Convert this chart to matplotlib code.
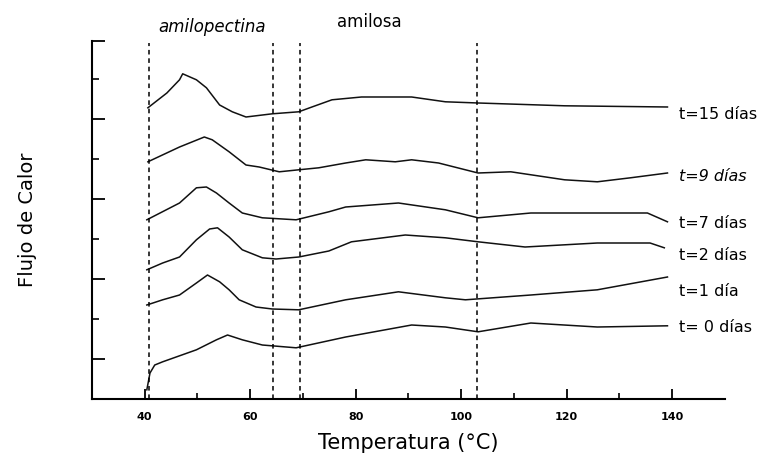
import matplotlib.pyplot as plt
import numpy as np

# curvas DSC, desplazadas verticalmente
x_t15 = [40.6, 44.2, 46.6, 47.2, 49.8, 51.7, 54.2, 56.6, 59.2, 64.2, 69.2, 71.7, 75.5, 81.1, 87.5, 90.6, 97.0, 103.2, 119.6, 139.1]
y_t15 = [7.28, 7.65, 7.98, 8.13, 7.98, 7.78, 7.35, 7.18, 7.05, 7.13, 7.18, 7.30, 7.48, 7.55, 7.55, 7.55, 7.43, 7.40, 7.33, 7.30]

x_t9 = [40.6, 46.6, 51.3, 52.8, 56.0, 59.2, 61.7, 65.5, 69.2, 73.0, 78.1, 81.9, 87.5, 90.6, 95.7, 103.2, 109.4, 119.6, 125.8, 132.1, 139.1]
y_t9 = [5.93, 6.30, 6.55, 6.48, 6.18, 5.85, 5.80, 5.68, 5.73, 5.78, 5.90, 5.98, 5.93, 5.98, 5.90, 5.65, 5.68, 5.48, 5.43, 5.53, 5.65]

x_t7 = [40.4, 46.6, 49.8, 51.7, 53.6, 56.0, 58.5, 62.3, 68.7, 74.9, 78.1, 88.1, 97.0, 103.2, 113.2, 125.8, 135.3, 139.1]
y_t7 = [4.48, 4.90, 5.28, 5.30, 5.15, 4.90, 4.65, 4.53, 4.48, 4.68, 4.80, 4.90, 4.73, 4.53, 4.65, 4.65, 4.65, 4.43]

x_t2 = [40.4, 43.4, 46.6, 49.8, 52.3, 53.8, 56.0, 58.5, 62.3, 64.9, 69.2, 74.9, 79.2, 89.4, 97.0, 103.2, 112.1, 125.8, 135.8, 138.5]
y_t2 = [3.23, 3.40, 3.55, 3.98, 4.25, 4.28, 4.05, 3.73, 3.53, 3.50, 3.55, 3.70, 3.93, 4.10, 4.03, 3.93, 3.80, 3.90, 3.90, 3.78]

x_t1 = [40.4, 43.4, 46.6, 49.8, 51.9, 54.2, 56.0, 57.9, 61.1, 64.2, 69.2, 78.1, 88.1, 97.0, 100.8, 113.2, 125.8, 139.1]
y_t1 = [2.35, 2.48, 2.60, 2.90, 3.10, 2.93, 2.73, 2.48, 2.30, 2.25, 2.23, 2.48, 2.68, 2.53, 2.48, 2.60, 2.73, 3.05]

x_t0 = [40.4, 41.0, 41.9, 43.4, 49.8, 53.6, 55.7, 58.5, 62.3, 68.7, 78.1, 90.6, 97.0, 103.2, 113.2, 125.8, 139.1]
y_t0 = [0.23, 0.65, 0.85, 0.93, 1.23, 1.48, 1.60, 1.48, 1.35, 1.28, 1.55, 1.85, 1.80, 1.68, 1.90, 1.80, 1.83]

etiquetas = ['t=15 días', 't=9 días', 't=7 días', 't=2 días', 't=1 día', 't= 0 días']
y_etiquetas = [7.1, 5.55, 4.4, 3.6, 2.7, 1.78]
cursiva = [False, True, False, False, False, False]

lineas_v = [40.9, 64.3, 69.4, 103.0]

curvas = [(x_t15, y_t15), (x_t9, y_t9), (x_t7, y_t7), (x_t2, y_t2), (x_t1, y_t1), (x_t0, y_t0)]

fig = plt.figure(figsize=(7.84, 4.58), dpi=100)
ax = fig.add_axes([0.1173, 0.1288, 0.8074, 0.7817])

for xs, ys in curvas:
    ax.plot(xs, ys, color='#111111', lw=1.1)

ax.vlines(lineas_v, 0, 8.9, colors='black', linestyles=(0, (3, 2.5)), lw=1.1)

for txt, yy, it in zip(etiquetas, y_etiquetas, cursiva):
    ax.text(141.3, yy, txt, ha='left', va='center', fontsize=11.5,
            style='italic' if it else 'normal', clip_on=False)

ax.text(42.5, 9.3, 'amilopectina', ha='left', va='center', fontsize=12,
        style='italic', clip_on=False)
ax.text(76.5, 9.42, 'amilosa', ha='left', va='center', fontsize=12, clip_on=False)

ax.set_xlim(30, 150)
ax.set_ylim(0, 8.95)
for s in ['top', 'right']:
    ax.spines[s].set_visible(False)
for s in ['left', 'bottom']:
    ax.spines[s].set_linewidth(1.5)

ax.set_xticks([40, 60, 80, 100, 120, 140])
ax.set_xticks([50, 70, 90, 110, 130], minor=True)
ax.set_yticks([1, 3, 5, 7, 8.95])
ax.set_yticks([2, 4, 6, 8], minor=True)
ax.set_yticklabels([])
ax.tick_params(axis='x', which='major', direction='in', length=7, width=1.3, pad=9,
               labelsize=8)
ax.tick_params(axis='x', which='minor', direction='in', length=4, width=1.2)
ax.tick_params(axis='y', which='major', direction='in', length=9, width=1.3)
ax.tick_params(axis='y', which='minor', direction='in', length=5, width=1.2)
for lab in ax.get_xticklabels():
    lab.set_fontweight('bold')

ax.set_xlabel('Temperatura (°C)', fontsize=15, labelpad=8)
ax.set_ylabel('Flujo de Calor', fontsize=14, labelpad=36)

fig.savefig('out.png', dpi=100)
